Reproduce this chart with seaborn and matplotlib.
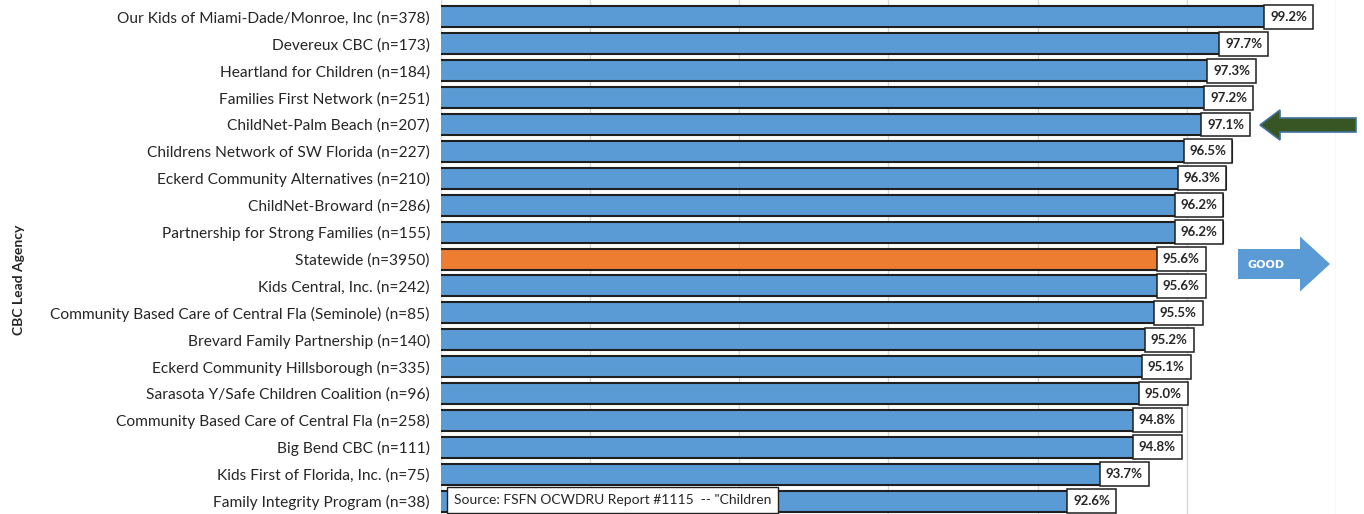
import seaborn as sns
import matplotlib.pyplot as plt
import matplotlib.transforms as mtransforms
from matplotlib.patches import FancyArrow
import pandas as pd

agencies = [
    "Our Kids of Miami-Dade/Monroe, Inc (n=378)",
    "Devereux CBC (n=173)",
    "Heartland for Children (n=184)",
    "Families First Network (n=251)",
    "ChildNet-Palm Beach (n=207)",
    "Childrens Network of SW Florida (n=227)",
    "Eckerd Community Alternatives (n=210)",
    "ChildNet-Broward (n=286)",
    "Partnership for Strong Families (n=155)",
    "Statewide (n=3950)",
    "Kids Central, Inc. (n=242)",
    "Community Based Care of Central Fla (Seminole) (n=85)",
    "Brevard Family Partnership (n=140)",
    "Eckerd Community Hillsborough (n=335)",
    "Sarasota Y/Safe Children Coalition (n=96)",
    "Community Based Care of Central Fla (n=258)",
    "Big Bend CBC (n=111)",
    "Kids First of Florida, Inc. (n=75)",
    "Family Integrity Program (n=38)",
]
percent = [99.2, 97.7, 97.3, 97.2, 97.1, 96.5, 96.3, 96.2, 96.2, 95.6,
           95.6, 95.5, 95.2, 95.1, 95.0, 94.8, 94.8, 93.7, 92.6]

blue = "#5B9BD5"
orange = "#ED7D31"
colors = {a: (orange if a.startswith("Statewide") else blue) for a in agencies}

df = pd.DataFrame({"agency": agencies, "pct": percent})

sns.set_style("white")
plt.rcParams["font.family"] = ["Lato", "DejaVu Sans"]

fig = plt.figure(figsize=(13.64, 5.14), dpi=100)
ax = fig.add_axes([441 / 1364, 0, (1336 - 441) / 1364, 1])

sns.barplot(data=df, x="pct", y="agency", hue="agency", palette=colors,
            legend=False, width=0.78, edgecolor="#1f1f1f", linewidth=1.5,
            saturation=1, orient="h", ax=ax)

ax.set_xlim(70, 100)
ax.set_ylim(18.48, -0.63)
ax.set_xticks(range(70, 101, 5))
ax.xaxis.grid(True, color="#D9D9D9", linewidth=1)
ax.set_axisbelow(True)
for s in ax.spines.values():
    s.set_visible(False)
ax.tick_params(axis="y", length=0, pad=8, labelsize=11.2, labelcolor="#262626")
ax.tick_params(axis="x", length=0, labelbottom=False)
ax.set_xlabel("")
ax.set_ylabel("CBC Lead Agency", fontsize=10, fontweight="bold")
ax.yaxis.set_label_coords(-0.465, 0.455)

# value labels in white boxes at the end of each bar
for i, v in enumerate(percent):
    ax.text(v - 0.17, i, f"{v:.1f}%", ha="right", va="center", fontsize=9.5,
            fontweight="bold", color="#262626",
            bbox=dict(boxstyle="square,pad=0.45", fc="white", ec="#1f1f1f", lw=1.1))

# pixel-based transform (origin top-left) for the callout shapes
px = mtransforms.Affine2D().scale(1 / 1364, -1 / 514).translate(0, 1) + fig.transFigure

# dark green arrow pointing at ChildNet-Palm Beach
fig.patches.append(FancyArrow(1356, 125, -96, 0, width=14, head_width=30,
                              head_length=20, length_includes_head=True,
                              fc="#375623", ec="#41719C", lw=1.2, transform=px))
# GOOD arrow
fig.patches.append(FancyArrow(1238, 264, 92, 0, width=30, head_width=55,
                              head_length=30, length_includes_head=True,
                              fc=blue, ec="none", transform=px))
fig.text(1266 / 1364, 1 - 265 / 514, "GOOD", color="white", fontsize=8,
         fontweight="bold", ha="center", va="center", family=["DejaVu Sans"])

# source note (cut off at the bottom like the original)
ax.text(454 / 1364, 1 - 500 / 514, 'Source: FSFN OCWDRU Report #1115  -- "Children',
        transform=fig.transFigure, fontsize=10, ha="left", va="center",
        color="#262626",
        bbox=dict(boxstyle="square,pad=0.5", fc="white", ec="#1f1f1f", lw=1))

fig.savefig("out.png", dpi=100)
